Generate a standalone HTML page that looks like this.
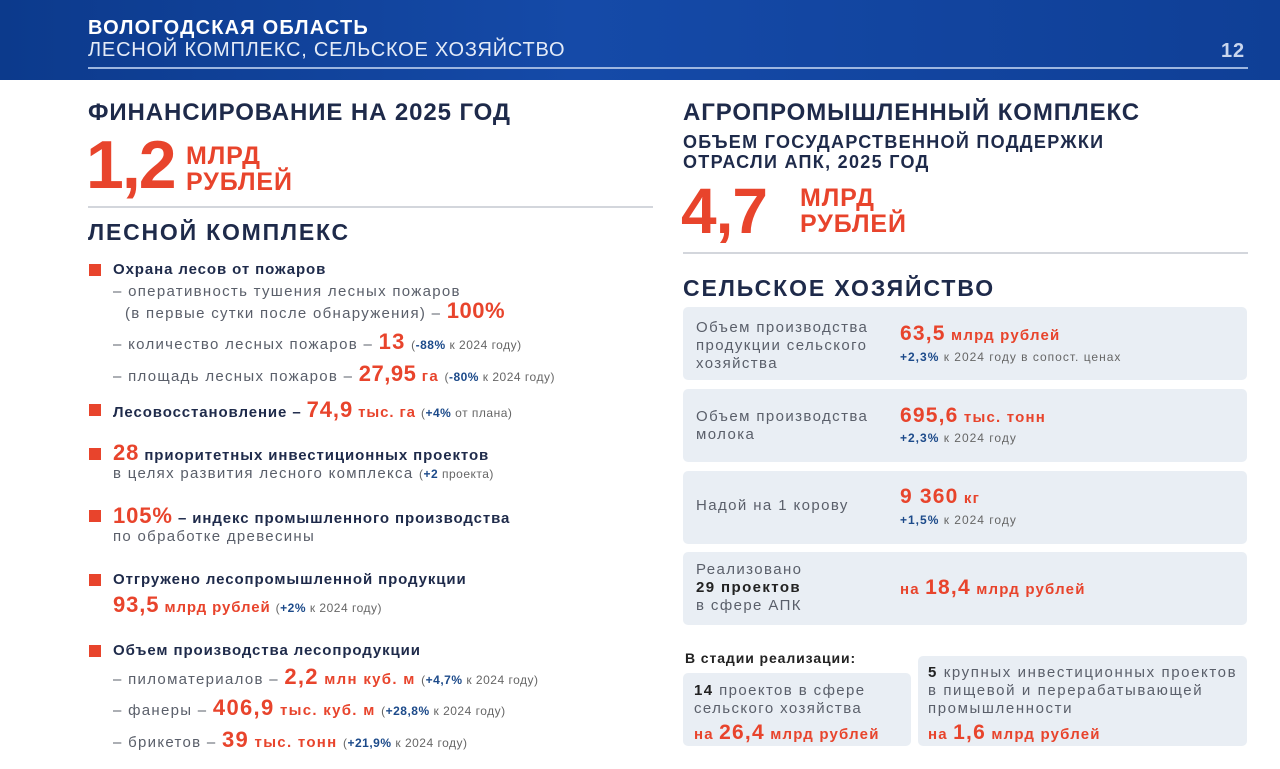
<!DOCTYPE html>
<html><head><meta charset="utf-8"><style>
*{margin:0;padding:0;box-sizing:border-box}
body{width:1280px;height:769px;position:relative;overflow:hidden;background:#fff;font-family:"Liberation Sans","DejaVu Sans",sans-serif;color:#1e2a4a;letter-spacing:0.9px}
.a{position:absolute;white-space:nowrap;line-height:1}
.hdr{position:absolute;left:0;top:0;width:1280px;height:80px;background:linear-gradient(90deg,#0c3a8c 0%,#154aa8 45%,#0f3f96 100%)}
.b{font-weight:bold}
.r{color:#e8442c;font-weight:bold}
.g{color:#5a5f6a;letter-spacing:1.3px}
.bl{color:#1c4a8a;font-weight:bold}
.sm{font-size:12px;color:#666;letter-spacing:0.5px}
.sq{position:absolute;width:12px;height:12px;background:#e8442c}
.box{position:absolute;background:#e9eef4;border-radius:5px}
.hl{position:absolute;height:2px;background:#d3d6dc}
.bx{font-size:15px;letter-spacing:1.4px}
</style></head><body>
<div class="hdr"></div>
<div class="a b" style="left:88px;top:18px;font-size:20px;color:#fff;letter-spacing:1.2px">ВОЛОГОДСКАЯ ОБЛАСТЬ</div>
<div class="a" style="left:88px;top:40px;font-size:20px;color:#e4ebf7;letter-spacing:0.8px">ЛЕСНОЙ КОМПЛЕКС, СЕЛЬСКОЕ ХОЗЯЙСТВО</div>
<div style="position:absolute;left:88px;top:67px;width:1160px;height:2px;background:#9db6e0"></div>
<div class="a b" style="left:1221px;top:41px;font-size:20px;color:#c9d6ee">12</div>

<div class="a b" style="left:88px;top:101px;font-size:24px">ФИНАНСИРОВАНИЕ НА 2025 ГОД</div>
<div class="a r" style="left:86px;top:131px;font-size:68px;letter-spacing:-2px">1,2</div>
<div class="a r" style="left:186px;top:143px;font-size:25px;line-height:26px">МЛРД<br>РУБЛЕЙ</div>
<div class="hl" style="left:88px;top:206px;width:565px"></div>
<div class="a b" style="left:88px;top:221px;font-size:23px;letter-spacing:1.8px">ЛЕСНОЙ КОМПЛЕКС</div>

<div class="sq" style="left:89px;top:264px"></div>
<div class="a b" style="left:113px;top:262px;font-size:15px">Охрана лесов от пожаров</div>
<div class="a g" style="left:113px;top:284px;font-size:15px">– оперативность тушения лесных пожаров</div>
<div class="a g" style="left:125px;top:300px;font-size:15px">(в первые сутки после обнаружения) – <span class="r" style="font-size:22px;letter-spacing:0.5px">100%</span></div>
<div class="a g" style="left:113px;top:331px;font-size:15px">– количество лесных пожаров – <span class="r" style="font-size:22px">13</span> <span class="sm">(<span class="bl">-88%</span> к 2024 году)</span></div>
<div class="a g" style="left:113px;top:363px;font-size:15px">– площадь лесных пожаров – <span class="r" style="font-size:22px;letter-spacing:0.5px">27,95</span> <span class="r">га</span> <span class="sm">(<span class="bl">-80%</span> к 2024 году)</span></div>
<div class="sq" style="left:89px;top:404px"></div>
<div class="a b" style="left:113px;top:399px;font-size:15px">Лесовосстановление – <span class="r" style="font-size:22px">74,9</span> <span class="r">тыс. га</span> <span class="sm" style="font-weight:normal">(<span class="bl">+4%</span> от плана)</span></div>
<div class="sq" style="left:89px;top:448px"></div>
<div class="a b" style="left:113px;top:442px;font-size:15px"><span class="r" style="font-size:22px">28</span> приоритетных инвестиционных проектов</div>
<div class="a g" style="left:113px;top:466px;font-size:15px">в целях развития лесного комплекса <span class="sm">(<span class="bl">+2</span> проекта)</span></div>
<div class="sq" style="left:89px;top:510px"></div>
<div class="a b" style="left:113px;top:505px;font-size:15px"><span class="r" style="font-size:22px">105%</span> – индекс промышленного производства</div>
<div class="a g" style="left:113px;top:529px;font-size:15px">по обработке древесины</div>
<div class="sq" style="left:89px;top:574px"></div>
<div class="a b" style="left:113px;top:572px;font-size:15px">Отгружено лесопромышленной продукции</div>
<div class="a r" style="left:113px;top:594px;font-size:15px"><span style="font-size:22px">93,5</span> млрд рублей <span class="sm" style="font-weight:normal">(<span class="bl">+2%</span> к 2024 году)</span></div>
<div class="sq" style="left:89px;top:645px"></div>
<div class="a b" style="left:113px;top:643px;font-size:15px">Объем производства лесопродукции</div>
<div class="a g" style="left:113px;top:666px;font-size:15px">– пиломатериалов – <span class="r" style="font-size:22px">2,2</span> <span class="r">млн куб. м</span> <span class="sm">(<span class="bl">+4,7%</span> к 2024 году)</span></div>
<div class="a g" style="left:113px;top:697px;font-size:15px">– фанеры – <span class="r" style="font-size:22px">406,9</span> <span class="r">тыс. куб. м</span> <span class="sm">(<span class="bl">+28,8%</span> к 2024 году)</span></div>
<div class="a g" style="left:113px;top:729px;font-size:15px">– брикетов – <span class="r" style="font-size:22px">39</span> <span class="r">тыс. тонн</span> <span class="sm">(<span class="bl">+21,9%</span> к 2024 году)</span></div>

<div class="a b" style="left:683px;top:101px;font-size:24px">АГРОПРОМЫШЛЕННЫЙ КОМПЛЕКС</div>
<div class="a b" style="left:683px;top:132px;font-size:18px;line-height:20px;letter-spacing:1.3px">ОБЪЕМ ГОСУДАРСТВЕННОЙ ПОДДЕРЖКИ<br>ОТРАСЛИ АПК, 2025 ГОД</div>
<div class="a r" style="left:681px;top:179px;font-size:64px;letter-spacing:-1px">4,7</div>
<div class="a r" style="left:800px;top:185px;font-size:25px;line-height:26px">МЛРД<br>РУБЛЕЙ</div>
<div class="hl" style="left:683px;top:252px;width:565px"></div>
<div class="a b" style="left:683px;top:277px;font-size:23px;letter-spacing:1.9px">СЕЛЬСКОЕ ХОЗЯЙСТВО</div>

<div class="box" style="left:683px;top:307px;width:564px;height:73px"></div>
<div class="a g bx" style="left:696px;top:319px;line-height:18px">Объем производства<br>продукции сельского<br>хозяйства</div>
<div class="a r" style="left:900px;top:323px;font-size:15px;letter-spacing:1.2px"><span style="font-size:21px">63,5</span> млрд рублей</div>
<div class="a sm" style="left:900px;top:351px;letter-spacing:1px"><span class="bl">+2,3%</span> к 2024 году в сопост. ценах</div>

<div class="box" style="left:683px;top:389px;width:564px;height:73px"></div>
<div class="a g bx" style="left:696px;top:408px;line-height:18px">Объем производства<br>молока</div>
<div class="a r" style="left:900px;top:405px;font-size:15px;letter-spacing:1.2px"><span style="font-size:21px">695,6</span> тыс. тонн</div>
<div class="a sm" style="left:900px;top:432px;letter-spacing:1px"><span class="bl">+2,3%</span> к 2024 году</div>

<div class="box" style="left:683px;top:471px;width:564px;height:73px"></div>
<div class="a g bx" style="left:696px;top:498px">Надой на 1 корову</div>
<div class="a r" style="left:900px;top:486px;font-size:15px;letter-spacing:1.2px"><span style="font-size:21px">9 360</span> кг</div>
<div class="a sm" style="left:900px;top:514px;letter-spacing:1px"><span class="bl">+1,5%</span> к 2024 году</div>

<div class="box" style="left:683px;top:552px;width:564px;height:73px"></div>
<div class="a g bx" style="left:696px;top:561px;line-height:18px">Реализовано<br><b style="color:#222">29 проектов</b><br>в сфере АПК</div>
<div class="a r" style="left:900px;top:577px;font-size:15px;letter-spacing:1.2px">на <span style="font-size:21px">18,4</span> млрд рублей</div>

<div class="a b" style="left:685px;top:651px;font-size:14px;color:#222">В стадии реализации:</div>
<div class="box" style="left:683px;top:673px;width:228px;height:73px"></div>
<div class="a g bx" style="left:694px;top:682px;line-height:18px"><b style="color:#222">14</b> проектов в сфере<br>сельского хозяйства</div>
<div class="a r" style="left:694px;top:722px;font-size:15px;letter-spacing:1.2px">на <span style="font-size:21px">26,4</span> млрд рублей</div>
<div class="box" style="left:918px;top:656px;width:329px;height:90px"></div>
<div class="a g bx" style="left:928px;top:664px;line-height:18px;letter-spacing:1.6px"><b style="color:#222">5</b> крупных инвестиционных проектов<br>в пищевой и перерабатывающей<br>промышленности</div>
<div class="a r" style="left:928px;top:722px;font-size:15px;letter-spacing:1.2px">на <span style="font-size:21px">1,6</span> млрд рублей</div>
</body></html>
